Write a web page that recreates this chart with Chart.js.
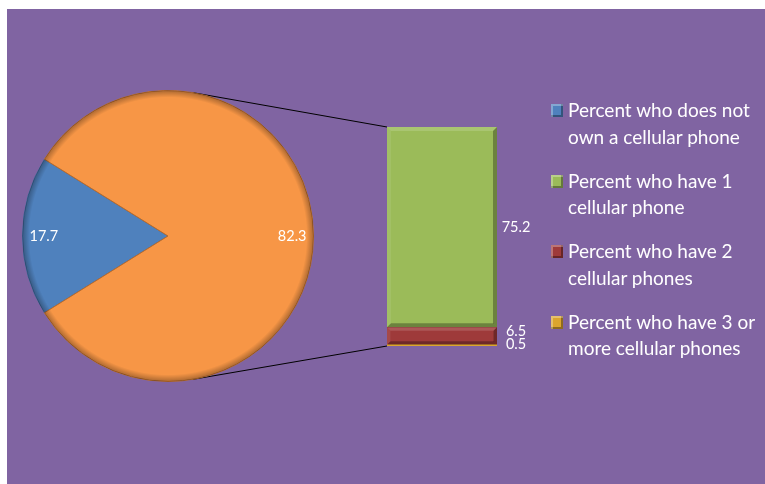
<!DOCTYPE html>
<html>
<head>
<meta charset="utf-8">
<script src="https://cdn.jsdelivr.net/npm/chart.js@4.4.1/dist/chart.umd.min.js"></script>
<style>
    body { margin: 0; background: #fff; width: 765px; height: 484px; overflow: hidden; font-family: Lato, sans-serif; }
    #panel { position: absolute; left: 7px; top: 9px; width: 758px; height: 475px; background: #8064a2; }
    #barBox { position: absolute; left: 0; top: 0; width: 758px; height: 475px; }
    #pieBox { position: absolute; left: 15px; top: 81px; width: 292px; height: 292px; }
    #legend { position: absolute; left: 544px; top: 88px; color: #fff; }
    .item { position: relative; margin-bottom: 17.5px; font-size: 19px; line-height: 26.5px; }
    .box { position: absolute; left: 0; top: 7px; width: 12px; height: 13px;
        box-shadow: inset 2px 2px 0 rgba(255,255,255,0.3), inset -2px -2px 0 rgba(0,0,0,0.35); }
    .txt { display: block; margin-left: 17px; white-space: nowrap; }
</style>
</head>
<body>
<div id="panel">
    <div id="barBox"><canvas id="bar"></canvas></div>
    <div id="pieBox"><canvas id="pie"></canvas></div>
    <div id="legend"></div>
</div>
<script>
// legend / category names, split in the lines used by the legend
const categories = [
    ['Percent who does not', 'own a cellular phone'],
    ['Percent who have 1', 'cellular phone'],
    ['Percent who have 2', 'cellular phones'],
    ['Percent who have 3 or', 'more cellular phones'],
];
// pie: "does not own" and the rest (which is split in the bar)
const pieValues = [17.7, 82.3];
// bar: categories 1..3
const barValues = [75.2, 6.5, 0.5];
const colors = ['#4f81bd', '#9bbb59', '#9e3a3a', '#dca52e'];
const otherColor = '#f79646';

const blueSweep = pieValues[0] / (pieValues[0] + pieValues[1]) * 360;

// darker rim round the pie
const pieRim = {
    id: 'pieRim',
    afterDatasetsDraw(chart) {
        const arc = chart.getDatasetMeta(0).data[0];
        const { ctx } = chart;
        const r = arc.outerRadius;
        ctx.save();
        const g = ctx.createRadialGradient(arc.x, arc.y, r - 7, arc.x, arc.y, r);
        g.addColorStop(0, 'rgba(0,0,0,0)');
        g.addColorStop(1, 'rgba(0,0,0,0.3)');
        ctx.beginPath();
        ctx.arc(arc.x, arc.y, r, 0, Math.PI * 2);
        ctx.arc(arc.x, arc.y, r - 7, 0, Math.PI * 2, true);
        ctx.fillStyle = g;
        ctx.fill();
        ctx.restore();
    }
};

// values inside the slices, near the edge
const pieValueLabels = {
    id: 'pieValueLabels',
    afterDatasetsDraw(chart) {
        const { ctx } = chart;
        ctx.save();
        ctx.font = '14.5px Lato';
        ctx.fillStyle = '#fff';
        ctx.textAlign = 'center';
        ctx.textBaseline = 'middle';
        chart.getDatasetMeta(0).data.forEach((arc, i) => {
            const mid = (arc.startAngle + arc.endAngle) / 2;
            const txt = String(pieValues[i]);
            const w = ctx.measureText(txt).width;
            const rr = arc.outerRadius - 7 - w / 2;
            ctx.fillText(txt, arc.x + Math.cos(mid) * rr, arc.y + Math.sin(mid) * rr);
        });
        ctx.restore();
    }
};

const pieChart = new Chart(document.getElementById('pie'), {
    type: 'pie',
    data: {
        labels: [categories[0].join(' '), 'Other'],
        datasets: [{
            data: pieValues,
            backgroundColor: [colors[0], otherColor],
            borderColor: ['#3d6596', '#b86c2c'],
            borderWidth: 1,
        }],
    },
    options: {
        responsive: true,
        maintainAspectRatio: false,
        animation: false,
        rotation: 270 - blueSweep / 2,
        layout: { padding: 0 },
        plugins: { legend: { display: false }, tooltip: { enabled: false } },
    },
    plugins: [pieRim, pieValueLabels],
});

// bevel on the bar segments
const barBevel = {
    id: 'barBevel',
    afterDatasetsDraw(chart) {
        const { ctx } = chart;
        ctx.save();
        chart.data.datasets.forEach((ds, i) => {
            const bar = chart.getDatasetMeta(i).data[0];
            const l = bar.x - bar.width / 2, r = bar.x + bar.width / 2;
            const t = bar.y, b = bar.base;
            const h = b - t;
            if (h < 6) return;
            const e = Math.min(4, h / 5);
            const quad = (pts, fill) => {
                ctx.beginPath();
                ctx.moveTo(pts[0][0], pts[0][1]);
                pts.slice(1).forEach(p => ctx.lineTo(p[0], p[1]));
                ctx.closePath();
                ctx.fillStyle = fill;
                ctx.fill();
            };
            quad([[l, t], [r, t], [r - e, t + e], [l + e, t + e]], 'rgba(255,255,255,0.15)');
            quad([[l, t], [l + e, t + e], [l + e, b - e], [l, b]], 'rgba(255,255,255,0.08)');
            quad([[r, t], [r, b], [r - e, b - e], [r - e, t + e]], 'rgba(0,0,0,0.3)');
            quad([[l, b], [r, b], [r - e, b - e], [l + e, b - e]], 'rgba(0,0,0,0.3)');
        });
        ctx.restore();
    }
};

// value labels right of the bar, pushed apart when they crowd
const barValueLabels = {
    id: 'barValueLabels',
    afterDatasetsDraw(chart) {
        const { ctx } = chart;
        const items = chart.data.datasets.map((ds, i) => {
            const bar = chart.getDatasetMeta(i).data[0];
            return { txt: String(ds.data[0]), x: bar.x + bar.width / 2 + 19, y: Math.min((bar.y + bar.base) / 2, bar.base - 2) };
        });
        let prev = Infinity;
        items.forEach(it => { it.y = Math.min(it.y, prev - 13); prev = it.y; });
        ctx.save();
        ctx.font = '14.5px Lato';
        ctx.fillStyle = '#fff';
        ctx.textAlign = 'center';
        ctx.textBaseline = 'middle';
        items.forEach(it => ctx.fillText(it.txt, it.x, it.y));
        ctx.restore();
    }
};

// lines from the pie (tangent) to the bar corners
const connectors = {
    id: 'connectors',
    afterDraw(chart) {
        const arc = pieChart.getDatasetMeta(0).data[0];
        const pr = pieChart.canvas.getBoundingClientRect();
        const br = chart.canvas.getBoundingClientRect();
        const cx = arc.x + pr.left - br.left, cy = arc.y + pr.top - br.top, rad = arc.outerRadius;
        const n = chart.data.datasets.length;
        const topBar = chart.getDatasetMeta(n - 1).data[0];
        const botBar = chart.getDatasetMeta(0).data[0];
        const corners = [
            [topBar.x - topBar.width / 2, topBar.y, -1],
            [botBar.x - botBar.width / 2, botBar.base, 1],
        ];
        const { ctx } = chart;
        ctx.save();
        ctx.strokeStyle = '#000';
        ctx.lineWidth = 1;
        ctx.beginPath();
        corners.forEach(([px, py, s]) => {
            const d = Math.hypot(px - cx, py - cy);
            const a = Math.atan2(py - cy, px - cx) + s * Math.acos(rad / d);
            ctx.moveTo(cx + rad * Math.cos(a), cy + rad * Math.sin(a));
            ctx.lineTo(px, py);
        });
        ctx.stroke();
        ctx.restore();
    }
};

const barTotal = barValues.reduce((a, b) => a + b, 0);
// stacked bottom-up: smallest share at the bottom
const barDatasets = barValues.map((v, i) => ({
    label: categories[i + 1].join(' '),
    data: [v],
    backgroundColor: colors[i + 1],
    barPercentage: 1,
    categoryPercentage: 1,
})).reverse();

const barChart = new Chart(document.getElementById('bar'), {
    type: 'bar',
    data: { labels: ['Other'], datasets: barDatasets },
    options: {
        responsive: true,
        maintainAspectRatio: false,
        animation: false,
        layout: { padding: { left: 380, right: 268, top: 118, bottom: 138 } },
        scales: {
            x: { stacked: true, display: false },
            y: { stacked: true, display: false, min: 0, max: barTotal },
        },
        plugins: { legend: { display: false }, tooltip: { enabled: false } },
    },
    plugins: [barBevel, barValueLabels, connectors],
});

const legend = document.getElementById('legend');
categories.forEach((lines, i) => {
    const item = document.createElement('div');
    item.className = 'item';
    item.innerHTML = '<span class="box" style="background:' + colors[i] + '"></span><span class="txt">' + lines.join('<br>') + '</span>';
    legend.appendChild(item);
});
</script>
</body>
</html>
